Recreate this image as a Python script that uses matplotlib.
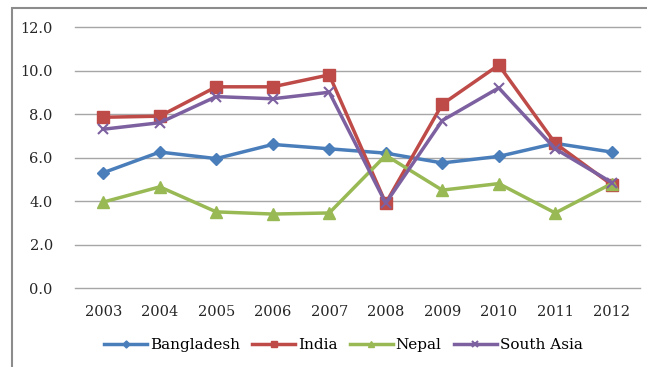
import matplotlib.pyplot as plt
from matplotlib.patches import Rectangle

years = ['2003', '2004', '2005', '2006', '2007', '2008', '2009', '2010', '2011', '2012']
bangladesh = [5.3, 6.25, 5.95, 6.6, 6.4, 6.2, 5.75, 6.05, 6.65, 6.25]
india = [7.85, 7.9, 9.25, 9.25, 9.8, 3.9, 8.45, 10.25, 6.65, 4.75]
nepal = [3.95, 4.65, 3.5, 3.4, 3.45, 6.1, 4.5, 4.8, 3.45, 4.8]
south_asia = [7.3, 7.6, 8.8, 8.7, 9.0, 3.9, 7.7, 9.2, 6.4, 4.85]

plt.rcParams['font.family'] = ['DejaVu Serif']

fig = plt.figure(figsize=(6.47, 3.67), dpi=100)
fig.patches.append(Rectangle((12/647, -0.01), 1.0, (367-8)/367 + 0.01,
                             transform=fig.transFigure, fill=False,
                             edgecolor='#8c8c8c', linewidth=1.5))

ax = fig.add_axes([75/647, 79/367, 565/647, 261/367])
x = list(range(len(years)))
ax.plot(x, bangladesh, color='#4A7EBB', lw=2.5, marker='D', ms=6, label='Bangladesh')
ax.plot(x, india, color='#BE4B48', lw=2.5, marker='s', ms=8, label='India')
ax.plot(x, nepal, color='#98B954', lw=2.5, marker='^', ms=8, label='Nepal')
ax.plot(x, south_asia, color='#7D60A0', lw=2.5, marker='x', ms=7, mew=1.5, label='South Asia')

ax.set_xlim(-0.5, len(years) - 0.5)
ax.set_ylim(0, 12)
ax.set_yticks([0, 2, 4, 6, 8, 10, 12])
ax.set_yticklabels(['%.1f' % v for v in [0, 2, 4, 6, 8, 10, 12]])
ax.set_xticks(x)
ax.set_xticklabels(years)
ax.tick_params(length=0, labelsize=10.5, colors='#262626')
ax.tick_params(axis='y', pad=16)
ax.tick_params(axis='x', pad=12)
ax.grid(axis='y', color='#a6a6a6', lw=1)
for gl in ax.get_ygridlines():
    gl.set_clip_on(False)
ax.set_axisbelow(True)
for s in ax.spines.values():
    s.set_visible(False)

ax.legend(loc='upper center', bbox_to_anchor=(0.475, -0.14), ncol=4, frameon=False,
          fontsize=11, handlelength=2.8, handletextpad=0.2, columnspacing=0.8,
          markerscale=0.6)

fig.savefig('out.png', dpi=100)
